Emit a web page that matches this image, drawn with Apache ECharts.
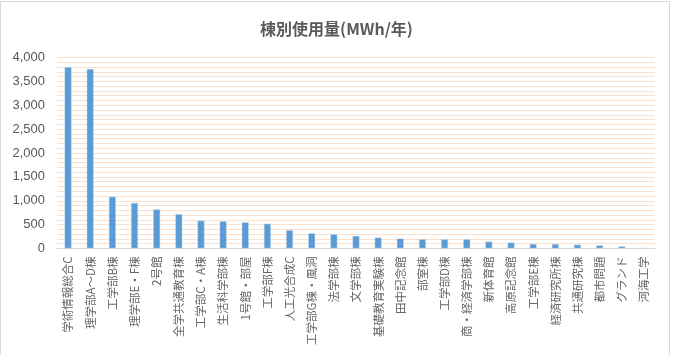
<!DOCTYPE html>
<html>
<head>
<meta charset="utf-8">
<script src="https://cdn.jsdelivr.net/npm/echarts@6/dist/echarts.min.js"></script>
<style>
html,body{margin:0;padding:0;background:#fff;}
#c{width:673px;height:355px;}
</style>
</head>
<body>
<div id="c"></div>
<script>
var titleText = '棟別使用量(MWh/年)';
var categories = ['学術情報総合C','理学部A〜D棟','工学部B棟','理学部E・F棟','2号館','全学共通教育棟','工学部C・A棟','生活科学部棟','1号館・部屋','工学部F棟','人工光合成C','工学部G棟・風洞','法学部棟','文学部棟','基礎教育実験棟','田中記念館','部室棟','工学部D棟','商・経済学部棟','新体育館','高原記念館','工学部E棟','経済研究所棟','共通研究棟','都市問題','グランド','河海工学'];
var values = [3800,3760,1085,955,820,720,585,570,550,520,385,320,300,265,230,210,195,195,195,145,125,95,95,82,68,45,12];
var yTicks = [0,500,1000,1500,2000,2500,3000,3500,4000];

var chart = echarts.init(document.getElementById('c'));
var font = '"Noto Sans CJK JP", "Noto Sans", sans-serif';
chart.setOption({
  animation:false,
  graphic:[{type:'rect',shape:{x:0.5,y:1.5,width:669,height:360},style:{fill:'none',stroke:'#d9d9d9',lineWidth:1},silent:true}],
  title:{text:titleText,left:'center',top:16,textStyle:{fontFamily:font,fontSize:16,fontWeight:'bold',color:'#595959'}},
  grid:{left:57,right:18,top:57.5,bottom:106.5,containLabel:false},
  xAxis:{type:'category',data:categories,
    axisLine:{lineStyle:{color:'#d9d9d9'}},axisTick:{show:false},
    axisLabel:{rotate:90,interval:0,fontFamily:font,fontSize:11.5,color:'#666666',margin:8}},
  yAxis:{type:'value',min:yTicks[0],max:yTicks[yTicks.length-1],interval:500,
    axisLine:{show:false},axisTick:{show:false},
    axisLabel:{fontFamily:'Liberation Sans, Arial, sans-serif',fontSize:13,color:'#595959',margin:12,
      formatter:function(v){return v.toLocaleString('en-US');}},
    splitLine:{lineStyle:{color:'#fbe0cc',width:1}},
    minorTick:{show:false,splitNumber:5},
    minorSplitLine:{show:true,lineStyle:{color:'#fbe0cc',width:1}}},
  series:[{type:'bar',data:values,barWidth:7,
    itemStyle:{color:'#5b9bd5',borderColor:'#c9dcef',borderWidth:0.5}}]
});
</script>
</body>
</html>
